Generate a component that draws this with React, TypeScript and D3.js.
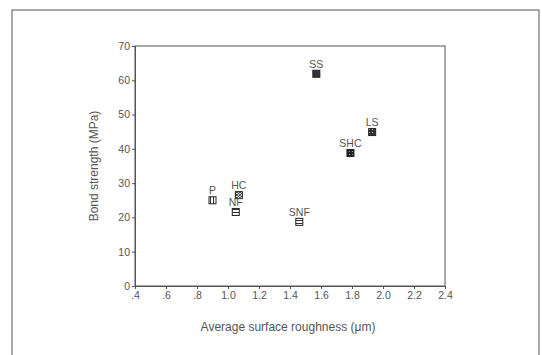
import React, { useEffect, useRef } from "react";
import * as d3 from "d3";

const labels = ["P", "HC", "NF", "SNF", "SS", "SHC", "LS"];
const roughness = [0.9, 1.07, 1.05, 1.46, 1.57, 1.79, 1.93];
const strength = [25.0, 26.5, 21.6, 18.7, 61.9, 38.8, 44.9];
const fills = ["url(#pV)", "url(#pX)", "url(#pH1)", "url(#pH2)", "#333", "url(#pChk)", "url(#pDot)"];
const xTicks = [0.4, 0.6, 0.8, 1.0, 1.2, 1.4, 1.6, 1.8, 2.0, 2.2, 2.4];
const yTicks = [0, 10, 20, 30, 40, 50, 60, 70];

export default function App() {
  const ref = useRef<SVGSVGElement>(null);

  useEffect(() => {
    const svg = d3.select(ref.current);
    svg.selectAll("*").remove();
    const margin = { left: 135, top: 46, right: 97, bottom: 69 };
    const W = 542, H = 355;
    const x = d3.scaleLinear().domain([0.4, 2.4]).range([margin.left, W - margin.right]);
    const y = d3.scaleLinear().domain([0, 70]).range([H - margin.bottom, margin.top]);
    const font = "Arial, 'Liberation Sans', sans-serif";
    const ink = "#555";

    const defs = svg.append("defs");
    const pat = (id: string) =>
      defs.append("pattern").attr("id", id).attr("patternUnits", "userSpaceOnUse")
        .attr("width", 3).attr("height", 3);
    pat("pV").call((p) => {
      p.append("rect").attr("width", 3).attr("height", 3).attr("fill", "#fff");
      p.append("rect").attr("width", 1).attr("height", 3).attr("fill", "#333");
    });
    pat("pH1").call((p) => {
      p.append("rect").attr("width", 3).attr("height", 3).attr("fill", "#fff");
      p.append("rect").attr("width", 3).attr("height", 1).attr("y", 2).attr("fill", "#333");
    });
    pat("pH2").call((p) => {
      p.append("rect").attr("width", 3).attr("height", 3).attr("fill", "#fff");
      p.append("rect").attr("width", 3).attr("height", 1).attr("y", 1).attr("fill", "#333");
    });
    pat("pX").call((p) => {
      p.append("rect").attr("width", 3).attr("height", 3).attr("fill", "#ddd");
      p.append("path").attr("d", "M0,0L3,3M3,0L0,3").attr("stroke", "#333").attr("stroke-width", 0.8);
    });
    pat("pChk").call((p) => {
      p.append("rect").attr("width", 3).attr("height", 3).attr("fill", "#222");
      p.append("rect").attr("width", 1).attr("height", 1).attr("x", 1).attr("y", 1).attr("fill", "#999");
    });
    pat("pDot").call((p) => {
      p.append("rect").attr("width", 3).attr("height", 3).attr("fill", "#333");
      p.append("rect").attr("width", 1).attr("height", 1).attr("fill", "#bbb");
    });

    // outer frame
    svg.append("rect").attr("x", 12).attr("y", 10).attr("width", 527).attr("height", 360)
      .attr("fill", "none").attr("stroke", "#555").attr("stroke-width", 1);

    // plot box
    svg.append("rect").attr("x", x(0.4)).attr("y", y(70))
      .attr("width", x(2.4) - x(0.4)).attr("height", y(0) - y(70))
      .attr("fill", "none").attr("stroke", "#555").attr("stroke-width", 1);

    const fmt = (d: d3.NumberValue) => {
      const s = d3.format(".1f")(+d);
      return s.startsWith("0.") ? s.slice(1) : s;
    };

    const xAxis = svg.append("g").attr("transform", `translate(0,${y(0)})`)
      .call(d3.axisBottom(x).tickValues(xTicks).tickFormat(fmt).tickSize(3).tickPadding(3));
    const yAxis = svg.append("g").attr("transform", `translate(${x(0.4)},0)`)
      .call(d3.axisLeft(y).tickValues(yTicks).tickSize(3).tickPadding(2));
    [xAxis, yAxis].forEach((a) => {
      a.select(".domain").attr("stroke", "#555");
      a.selectAll("line").attr("stroke", "#555");
      a.selectAll("text").attr("font-family", font).attr("font-size", 10.5).attr("fill", ink);
    });

    svg.append("text").attr("x", 288).attr("y", 331).attr("text-anchor", "middle")
      .attr("font-family", font).attr("font-size", 12).attr("fill", ink)
      .text("Average surface roughness (\u03BCm)");

    svg.append("text").attr("transform", `translate(98,${(y(0) + y(70)) / 2}) rotate(-90)`)
      .attr("text-anchor", "middle").attr("font-family", font).attr("font-size", 12).attr("fill", ink)
      .text("Bond strength (MPa)");

    const pts = labels.map((l, i) => ({ l, rx: roughness[i], s: strength[i], f: fills[i] }));
    const g = svg.append("g");
    g.selectAll("rect.pt").data(pts).join("rect").attr("class", "pt")
      .attr("x", (d) => x(d.rx) - 3.5).attr("y", (d) => y(d.s) - 3.5)
      .attr("width", 7).attr("height", 7)
      .attr("fill", (d) => d.f).attr("stroke", "#222").attr("stroke-width", 1);
    g.selectAll("text").data(pts).join("text")
      .attr("x", (d) => x(d.rx)).attr("y", (d) => y(d.s) - 6)
      .attr("text-anchor", "middle").attr("font-family", font).attr("font-size", 10.5)
      .attr("fill", ink).text((d) => d.l);
  }, []);

  return (
    <svg ref={ref} width={542} height={355}
      style={{ position: "absolute", left: 0, top: 0, background: "#fff" }} />
  );
}
